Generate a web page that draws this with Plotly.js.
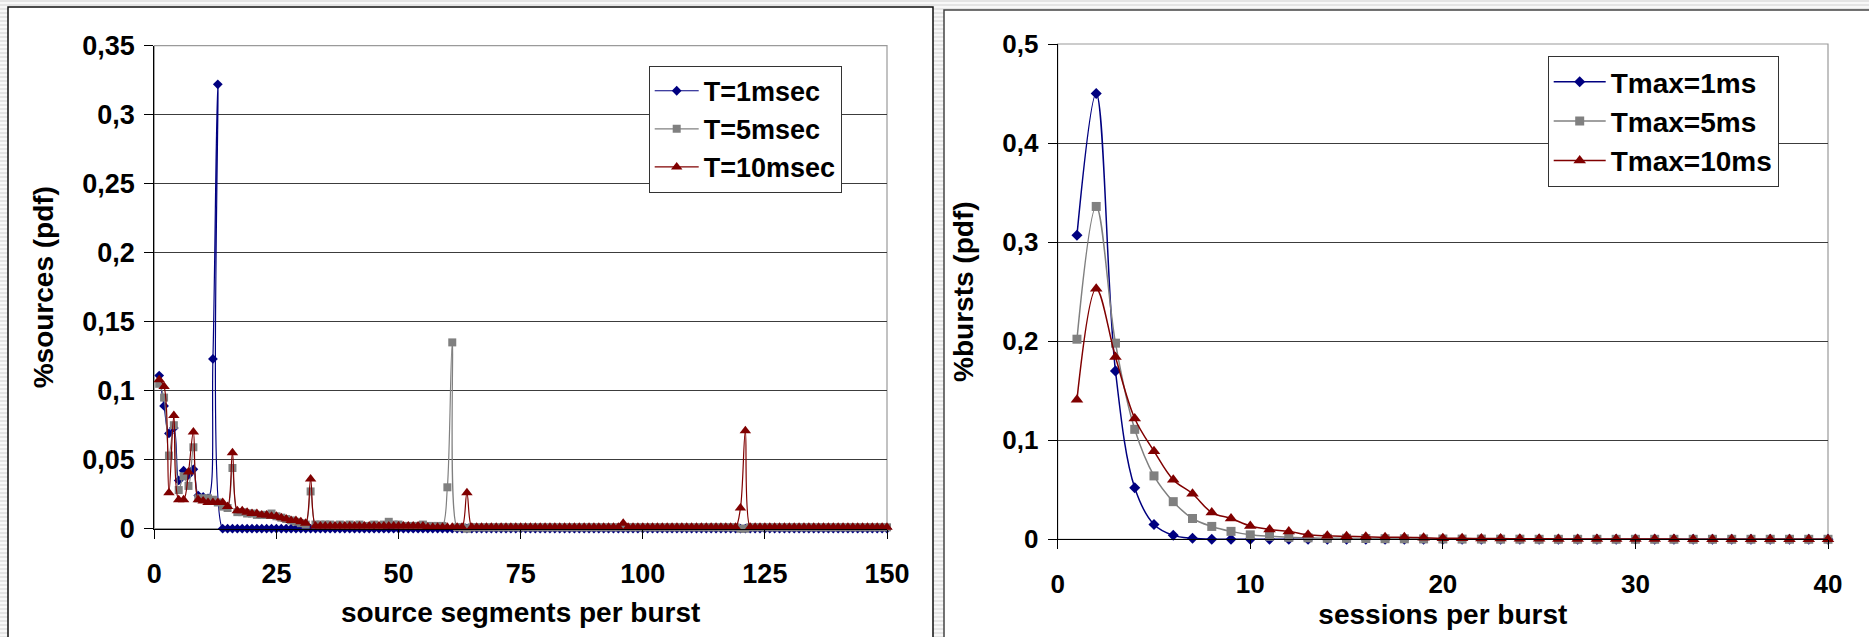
<!DOCTYPE html>
<html>
<head>
<meta charset="utf-8">
<script src="https://cdn.plot.ly/plotly-3.0.1.min.js"></script>
<style>
  html, body { margin: 0; padding: 0; }
  body {
    width: 1869px; height: 637px; overflow: hidden;
    background: repeating-linear-gradient(to bottom, #e4e4e4 0px, #e4e4e4 2px, #f8f8f8 2px, #f8f8f8 4px);
  }
  #chart { width: 1869px; height: 637px; }
</style>
</head>
<body>
<div id="chart"></div>
<script>
// ---- Left panel: share of sources per number of source segments in a burst ----
const segT1 = [
  0.111, 0.089, 0.069, 0.073, 0.035, 0.042, 0.039, 0.043, 0.024, 0.023,
  0.022, 0.123, 0.322, 0, 0, 0, 0, 0, 0, 0,
  0, 0, 0, 0, 0, 0, 0, 0, 0, 0,
  0, 0, 0, 0, 0, 0, 0, 0, 0, 0,
  0, 0, 0, 0, 0, 0, 0, 0, 0, 0,
  0, 0, 0, 0, 0, 0, 0, 0, 0, 0,
  0, 0, 0, 0, 0, 0, 0, 0, 0, 0,
  0, 0, 0, 0, 0, 0, 0, 0, 0, 0,
  0, 0, 0, 0, 0, 0, 0, 0, 0, 0,
  0, 0, 0, 0, 0, 0, 0, 0, 0, 0,
  0, 0, 0, 0, 0, 0, 0, 0, 0, 0,
  0, 0, 0, 0, 0, 0, 0, 0, 0, 0,
  0, 0, 0, 0, 0, 0, 0, 0, 0, 0,
  0, 0, 0, 0, 0, 0, 0, 0, 0, 0,
  0, 0, 0, 0, 0, 0, 0, 0, 0, 0
];
const segT5 = [
  0.105, 0.095, 0.053, 0.075, 0.028, 0.038, 0.031, 0.059, 0.022, 0.022,
  0.022, 0.021, 0.019, 0.016, 0.015, 0.044, 0.012, 0.012, 0.011, 0.011,
  0.010, 0.010, 0.010, 0.011, 0.009, 0.008, 0.007, 0.006, 0.005, 0.004,
  0.003, 0.027, 0.003, 0.003, 0.003, 0.003, 0.002, 0.003, 0.002, 0.003,
  0.002, 0.003, 0.002, 0.002, 0.003, 0.002, 0.003, 0.005, 0.003, 0.003,
  0.002, 0.002, 0.002, 0.002, 0.003, 0.002, 0.002, 0.002, 0.002, 0.030,
  0.135, 0.001, 0.001, 0.000, 0.001, 0.001, 0.001, 0.001, 0.001, 0.001,
  0.001, 0.001, 0.001, 0.001, 0.001, 0.001, 0.001, 0.001, 0.001, 0.001,
  0.001, 0.001, 0.001, 0.001, 0.001, 0.001, 0.001, 0.001, 0.001, 0.001,
  0.001, 0.001, 0.001, 0.001, 0.001, 0.001, 0.001, 0.001, 0.001, 0.001,
  0.001, 0.001, 0.001, 0.001, 0.001, 0.001, 0.001, 0.001, 0.001, 0.001,
  0.001, 0.001, 0.001, 0.001, 0.001, 0.001, 0.001, 0.001, 0.001, 0.000,
  0.000, 0.001, 0.001, 0.001, 0.001, 0.001, 0.001, 0.001, 0.001, 0.001,
  0.001, 0.001, 0.001, 0.001, 0.001, 0.001, 0.001, 0.001, 0.001, 0.001,
  0.001, 0.001, 0.001, 0.001, 0.001, 0.001, 0.001, 0.001, 0.001, 0.001
];
const segT10 = [
  0.108, 0.103, 0.026, 0.082, 0.021, 0.021, 0.041, 0.070, 0.021, 0.020,
  0.019, 0.019, 0.019, 0.019, 0.016, 0.055, 0.013, 0.013, 0.012, 0.011,
  0.011, 0.010, 0.010, 0.009, 0.009, 0.008, 0.007, 0.006, 0.006, 0.005,
  0.004, 0.036, 0.002, 0.002, 0.002, 0.002, 0.002, 0.002, 0.002, 0.002,
  0.002, 0.002, 0.002, 0.002, 0.002, 0.002, 0.002, 0.002, 0.002, 0.002,
  0.002, 0.002, 0.002, 0.002, 0.002, 0.001, 0.001, 0.001, 0.001, 0.001,
  0.001, 0.001, 0.001, 0.026, 0.001, 0.001, 0.001, 0.001, 0.001, 0.001,
  0.001, 0.001, 0.001, 0.001, 0.001, 0.001, 0.001, 0.001, 0.001, 0.001,
  0.001, 0.001, 0.001, 0.001, 0.001, 0.001, 0.001, 0.001, 0.001, 0.001,
  0.001, 0.001, 0.001, 0.001, 0.001, 0.004, 0.001, 0.001, 0.001, 0.001,
  0.001, 0.001, 0.001, 0.001, 0.001, 0.001, 0.001, 0.001, 0.001, 0.001,
  0.001, 0.001, 0.001, 0.001, 0.001, 0.001, 0.001, 0.001, 0.001, 0.015,
  0.071, 0.001, 0.001, 0.001, 0.001, 0.001, 0.001, 0.001, 0.001, 0.001,
  0.001, 0.001, 0.001, 0.001, 0.001, 0.001, 0.001, 0.001, 0.001, 0.001,
  0.001, 0.001, 0.001, 0.001, 0.001, 0.001, 0.001, 0.001, 0.001, 0.001
];
// segments per burst: 1, 2, ... 150
const segments = segT1.map((_, i) => i + 1);

// ---- Right panel: share of bursts per number of sessions in a burst ----
const sesTmax1 = [
  0.307, 0.450, 0.170, 0.052, 0.015, 0.004, 0.001, 0, 0, 0,
  0, 0, 0, 0, 0, 0, 0, 0, 0, 0,
  0, 0, 0, 0, 0, 0, 0, 0, 0, 0,
  0, 0, 0, 0, 0, 0, 0, 0, 0, 0
];
const sesTmax5 = [
  0.202, 0.336, 0.198, 0.111, 0.064, 0.038, 0.021, 0.013, 0.008, 0.0045,
  0.003, 0.002, 0.0015, 0.001, 0.001, 0.0008, 0.0006, 0.0005, 0.0004, 0.0003,
  0.0002, 0.0002, 0.0001, 0.0001, 0, 0, 0, 0, 0, 0,
  0, 0, 0, 0, 0, 0, 0, 0, 0, 0
];
const sesTmax10 = [
  0.141, 0.253, 0.184, 0.122, 0.089, 0.060, 0.046, 0.027, 0.021, 0.0135,
  0.010, 0.008, 0.0045, 0.0035, 0.003, 0.0025, 0.002, 0.002, 0.0015, 0.001,
  0.001, 0.0008, 0.0007, 0.0006, 0.0005, 0.0004, 0.0004, 0.0003, 0.0003, 0.0002,
  0.0002, 0.0002, 0.0001, 0.0001, 0.0001, 0.0001, 0, 0, 0, 0
];
const sessions = sesTmax1.map((_, i) => i + 1);

const leftNames = ['T=1msec', 'T=5msec', 'T=10msec'];
const rightNames = ['Tmax=1ms', 'Tmax=5ms', 'Tmax=10ms'];

const W = 1869, H = 637;
const NAVY = '#000080', GREY = '#808080', MAROON = '#800000';
const FONT = 'Liberation Sans, Arial, Helvetica, sans-serif';

function series(x, y, name, color, symbol, size, xa, ya, legend, lw) {
  return {
    type: 'scatter', mode: 'lines+markers', x: x, y: y, name: name,
    xaxis: xa, yaxis: ya, legend: legend,
    cliponaxis: false,
    line: { color: color, width: lw, shape: 'spline', smoothing: 1 },
    marker: { color: color, symbol: symbol, size: size, line: { width: 0 } }
  };
}

const traces = [
  series(segments, segT1, leftNames[0], NAVY, 'diamond', 7.5, 'x', 'y', 'legend', 1.2),
  series(segments, segT5, leftNames[1], GREY, 'square', 8, 'x', 'y', 'legend', 1.2),
  series(segments, segT10, leftNames[2], MAROON, 'triangle-up', 10, 'x', 'y', 'legend', 1.2),
  series(sessions, sesTmax1, rightNames[0], NAVY, 'diamond', 8.5, 'x2', 'y2', 'legend2', 1.5),
  series(sessions, sesTmax5, rightNames[1], GREY, 'square', 9, 'x2', 'y2', 'legend2', 1.5),
  series(sessions, sesTmax10, rightNames[2], MAROON, 'triangle-up', 11, 'x2', 'y2', 'legend2', 1.5)
];

const titleFont = { family: FONT, size: 28, color: '#000', weight: 700 };

function xAxis(domain, range, dtick, title, anchor, fs, standoff) {
  return {
    domain: domain, range: range, dtick: dtick, tick0: 0, anchor: anchor,
    showgrid: false, zeroline: false, showline: true, linecolor: '#000', linewidth: 1,
    ticks: 'outside', ticklen: 9, tickwidth: 1, tickcolor: '#000',
    tickfont: { family: FONT, size: fs, color: '#000', weight: 700 }, ticklabelstandoff: 12,
    title: { text: title, font: titleFont, standoff: standoff }
  };
}
function yAxis(domain, range, dtick, title, anchor, fs) {
  return {
    domain: domain, range: range, dtick: dtick, tick0: 0, anchor: anchor,
    showgrid: true, gridcolor: '#3c3c3c', gridwidth: 1, zeroline: false,
    showline: true, linecolor: '#000', linewidth: 1,
    ticks: 'outside', ticklen: 9, tickwidth: 1, tickcolor: '#000',
    tickfont: { family: FONT, size: fs, color: '#000', weight: 700 }, ticklabelstandoff: 4,
    title: { text: title, font: titleFont, standoff: 20 }
  };
}

const px = v => v / W;
const py = v => 1 - v / H;

const layout = {
  width: W, height: H,
  margin: { l: 0, r: 0, t: 0, b: 0 },
  paper_bgcolor: 'rgba(0,0,0,0)',
  plot_bgcolor: 'rgba(0,0,0,0)',
  separators: ', ',
  font: { family: FONT, color: '#000', weight: 700 },
  showlegend: true,
  xaxis: xAxis([px(154.3), px(887)], [0, 150], 25, 'source segments per burst', 'y', 27, 14),
  yaxis: yAxis([py(528.7), py(45.7)], [0, 0.35], 0.05, '%sources (pdf)', 'x', 27),
  xaxis2: xAxis([px(1057.7), px(1828)], [0, 40], 10, 'sessions per burst', 'y2', 26, 6),
  yaxis2: yAxis([py(539.3), py(44)], [0, 0.5], 0.1, '%bursts (pdf)', 'x2', 26),
  legend: {
    x: px(648.7), y: py(65.7), xanchor: 'left', yanchor: 'top',
    bgcolor: '#fff', bordercolor: '#333', borderwidth: 1,
    font: { family: FONT, size: 27, color: '#000', weight: 700 },
    itemwidth: 44, tracegroupgap: 0
  },
  legend2: {
    x: px(1547.7), y: py(56), xanchor: 'left', yanchor: 'top',
    bgcolor: '#fff', bordercolor: '#333', borderwidth: 1,
    font: { family: FONT, size: 28, color: '#000', weight: 700 },
    itemwidth: 52, tracegroupgap: 0
  },
  shapes: [
    // chart frames
    { type: 'rect', xref: 'paper', yref: 'paper', layer: 'below',
      x0: px(8), x1: px(933), y0: -0.02, y1: py(7),
      fillcolor: '#fff', line: { color: '#111', width: 1.5 } },
    { type: 'rect', xref: 'paper', yref: 'paper', layer: 'below',
      x0: px(944), x1: 1.02, y0: -0.02, y1: py(10),
      fillcolor: '#fff', line: { color: '#444', width: 1.5 } },
    // plot-area borders
    { type: 'rect', xref: 'x domain', yref: 'y domain', layer: 'below',
      x0: 0, x1: 1, y0: 0, y1: 1, line: { color: '#9a9a9a', width: 1.2 } },
    { type: 'rect', xref: 'x2 domain', yref: 'y2 domain', layer: 'below',
      x0: 0, x1: 1, y0: 0, y1: 1, line: { color: '#9a9a9a', width: 1.2 } }
  ]
};

Plotly.newPlot('chart', traces, layout, { displayModeBar: false, staticPlot: true });
</script>
</body>
</html>
